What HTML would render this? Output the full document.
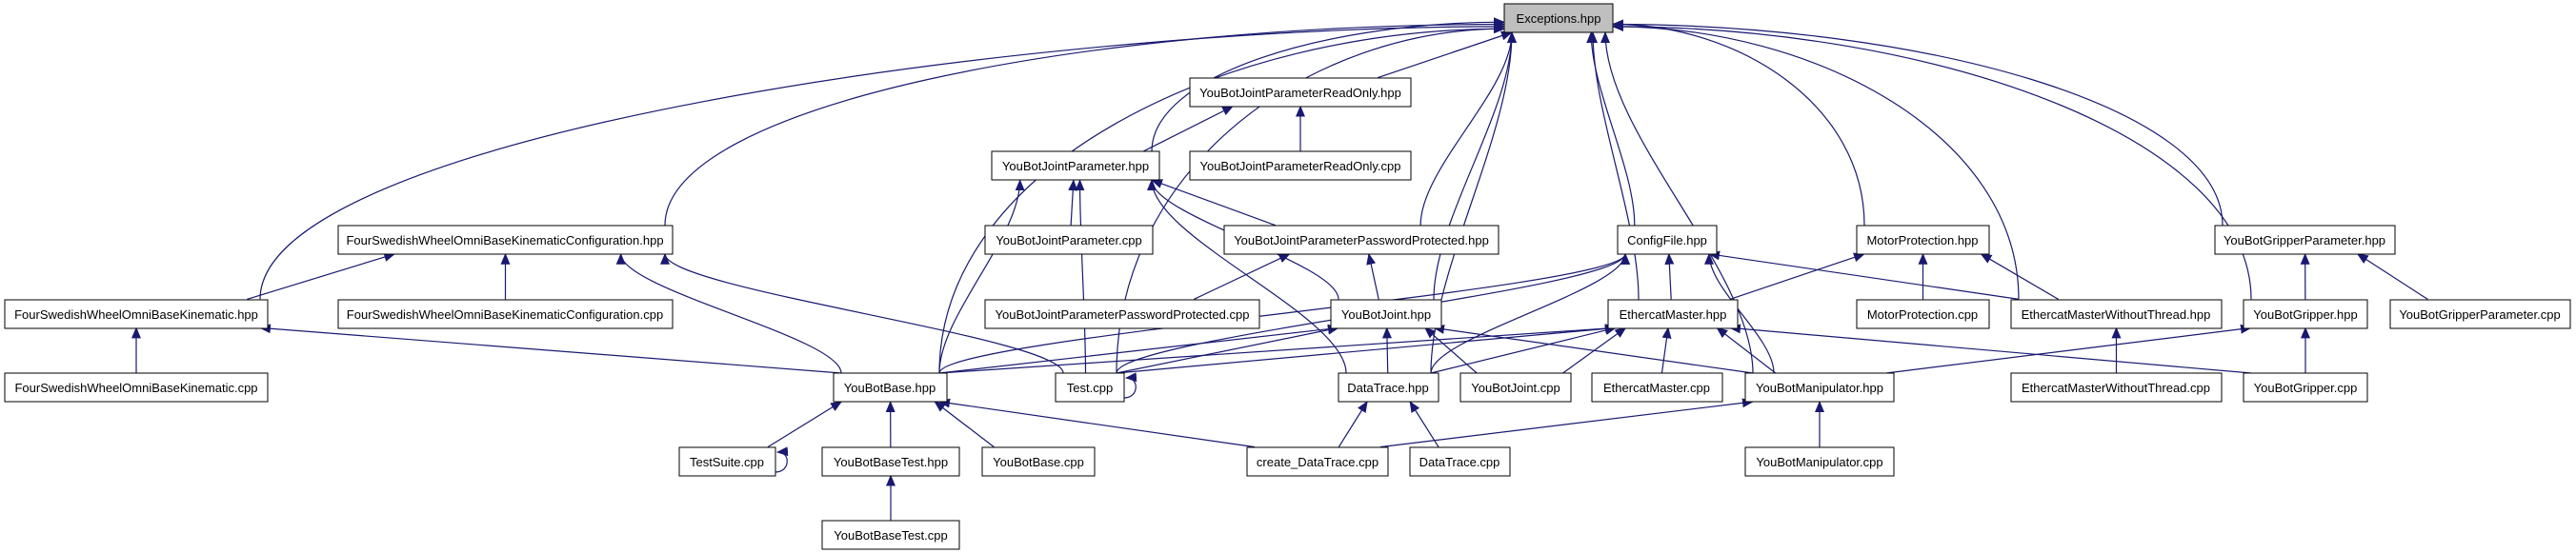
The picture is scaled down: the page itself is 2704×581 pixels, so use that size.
<!DOCTYPE html>
<html><head><meta charset="utf-8"><style>
html,body{margin:0;padding:0;background:#fff;}
svg{display:block;}
text{font-family:"Liberation Sans",sans-serif;font-size:13px;fill:#000;}
rect{stroke:#000;stroke-width:1;}
</style></head><body>
<svg id="s" width="2704" height="581" viewBox="0 0 2704 581" xmlns="http://www.w3.org/2000/svg">
<defs><marker id="a" markerWidth="12" markerHeight="10" refX="11" refY="5" orient="auto" markerUnits="userSpaceOnUse"><path d="M0,0 L12,5 L0,10 z" fill="#191970"/></marker></defs>
<g id="edges" fill="none" stroke="#191970" stroke-width="1.2"></g>
<g id="nodes">
<rect x="1579" y="4" width="114" height="30" fill="#bfbfbf"/><text x="1636" y="24" text-anchor="middle">Exceptions.hpp</text>
<rect x="1249" y="82" width="232" height="30" fill="#fff"/><text x="1365" y="102" text-anchor="middle">YouBotJointParameterReadOnly.hpp</text>
<rect x="1041" y="159" width="176" height="30" fill="#fff"/><text x="1129" y="179" text-anchor="middle">YouBotJointParameter.hpp</text>
<rect x="1249" y="159" width="232" height="30" fill="#fff"/><text x="1365" y="179" text-anchor="middle">YouBotJointParameterReadOnly.cpp</text>
<rect x="355" y="237" width="351" height="30" fill="#fff"/><text x="530" y="257" text-anchor="middle">FourSwedishWheelOmniBaseKinematicConfiguration.hpp</text>
<rect x="1034" y="237" width="176" height="30" fill="#fff"/><text x="1122" y="257" text-anchor="middle">YouBotJointParameter.cpp</text>
<rect x="1285" y="237" width="288" height="30" fill="#fff"/><text x="1429" y="257" text-anchor="middle">YouBotJointParameterPasswordProtected.hpp</text>
<rect x="1698" y="237" width="104" height="30" fill="#fff"/><text x="1750" y="257" text-anchor="middle">ConfigFile.hpp</text>
<rect x="1949" y="237" width="139" height="30" fill="#fff"/><text x="2018" y="257" text-anchor="middle">MotorProtection.hpp</text>
<rect x="2325" y="237" width="189" height="30" fill="#fff"/><text x="2419" y="257" text-anchor="middle">YouBotGripperParameter.hpp</text>
<rect x="5" y="315" width="276" height="30" fill="#fff"/><text x="143" y="335" text-anchor="middle">FourSwedishWheelOmniBaseKinematic.hpp</text>
<rect x="355" y="315" width="351" height="30" fill="#fff"/><text x="530" y="335" text-anchor="middle">FourSwedishWheelOmniBaseKinematicConfiguration.cpp</text>
<rect x="1034" y="315" width="288" height="30" fill="#fff"/><text x="1178" y="335" text-anchor="middle">YouBotJointParameterPasswordProtected.cpp</text>
<rect x="1397" y="315" width="116" height="30" fill="#fff"/><text x="1455" y="335" text-anchor="middle">YouBotJoint.hpp</text>
<rect x="1688" y="315" width="136" height="30" fill="#fff"/><text x="1756" y="335" text-anchor="middle">EthercatMaster.hpp</text>
<rect x="1949" y="315" width="139" height="30" fill="#fff"/><text x="2018" y="335" text-anchor="middle">MotorProtection.cpp</text>
<rect x="2111" y="315" width="221" height="30" fill="#fff"/><text x="2221" y="335" text-anchor="middle">EthercatMasterWithoutThread.hpp</text>
<rect x="2355" y="315" width="130" height="30" fill="#fff"/><text x="2420" y="335" text-anchor="middle">YouBotGripper.hpp</text>
<rect x="2509" y="315" width="189" height="30" fill="#fff"/><text x="2603" y="335" text-anchor="middle">YouBotGripperParameter.cpp</text>
<rect x="5" y="392" width="276" height="30" fill="#fff"/><text x="143" y="412" text-anchor="middle">FourSwedishWheelOmniBaseKinematic.cpp</text>
<rect x="875" y="392" width="119" height="30" fill="#fff"/><text x="934" y="412" text-anchor="middle">YouBotBase.hpp</text>
<rect x="1108" y="392" width="72" height="30" fill="#fff"/><text x="1144" y="412" text-anchor="middle">Test.cpp</text>
<rect x="1405" y="392" width="105" height="30" fill="#fff"/><text x="1457" y="412" text-anchor="middle">DataTrace.hpp</text>
<rect x="1533" y="392" width="116" height="30" fill="#fff"/><text x="1591" y="412" text-anchor="middle">YouBotJoint.cpp</text>
<rect x="1671" y="392" width="137" height="30" fill="#fff"/><text x="1739" y="412" text-anchor="middle">EthercatMaster.cpp</text>
<rect x="1832" y="392" width="156" height="30" fill="#fff"/><text x="1910" y="412" text-anchor="middle">YouBotManipulator.hpp</text>
<rect x="2111" y="392" width="221" height="30" fill="#fff"/><text x="2221" y="412" text-anchor="middle">EthercatMasterWithoutThread.cpp</text>
<rect x="2355" y="392" width="130" height="30" fill="#fff"/><text x="2420" y="412" text-anchor="middle">YouBotGripper.cpp</text>
<rect x="713" y="470" width="101" height="30" fill="#fff"/><text x="763" y="490" text-anchor="middle">TestSuite.cpp</text>
<rect x="863" y="470" width="144" height="30" fill="#fff"/><text x="935" y="490" text-anchor="middle">YouBotBaseTest.hpp</text>
<rect x="1031" y="470" width="118" height="30" fill="#fff"/><text x="1090" y="490" text-anchor="middle">YouBotBase.cpp</text>
<rect x="1309" y="470" width="148" height="30" fill="#fff"/><text x="1383" y="490" text-anchor="middle">create_DataTrace.cpp</text>
<rect x="1480" y="470" width="105" height="30" fill="#fff"/><text x="1532" y="490" text-anchor="middle">DataTrace.cpp</text>
<rect x="1832" y="470" width="156" height="30" fill="#fff"/><text x="1910" y="490" text-anchor="middle">YouBotManipulator.cpp</text>
<rect x="863" y="547" width="144" height="30" fill="#fff"/><text x="935" y="567" text-anchor="middle">YouBotBaseTest.cpp</text>
</g>
</svg>
<script>
(function(){
var N={
EX:[1579,1693,0],RO:[1249,1481,1],JP:[1041,1217,2],ROC:[1249,1481,2],
FCH:[355,706,3],JPC:[1034,1210,3],PP:[1285,1573,3],CF:[1698,1802,3],MP:[1949,2088,3],GP:[2325,2514,3],
FKH:[5,281,4],FCC:[355,706,4],PPC:[1034,1322,4],YJ:[1397,1513,4],EM:[1688,1824,4],MPC:[1949,2088,4],EW:[2111,2332,4],YG:[2355,2485,4],GPC:[2509,2698,4],
FKC:[5,281,5],YB:[875,994,5],TC:[1108,1180,5],DT:[1405,1510,5],YJC:[1533,1649,5],EMC:[1671,1808,5],YM:[1832,1988,5],EWC:[2111,2332,5],YGC:[2355,2485,5],
TS:[713,814,6],BT:[863,1007,6],YBC:[1031,1149,6],CDT:[1309,1457,6],DTC:[1480,1585,6],YMC:[1832,1988,6],BTC:[863,1007,7]};
function tp(n){return 4+77.6*n[2];}
var E=[
['RO','EX'],['JP','EX'],['PP','EX'],['CF','EX'],['EM','EX'],['YJ','EX'],['DT','EX'],['TC','EX'],['YB','EX'],['FCH','EX'],['FKH','EX'],['MP','EX'],['EW','EX'],['YG','EX'],['GP','EX'],['YM','EX'],
['JP','RO'],['ROC','RO'],
['JPC','JP'],['PP','JP'],['YJ','JP'],['YB','JP'],['TC','JP'],['DT','JP'],
['PPC','PP'],['YJ','PP'],
['YB','CF'],['TC','CF'],['DT','CF'],['EM','CF'],['EW','CF'],['YM','CF'],
['FKH','FCH'],['FCC','FCH'],['YB','FCH'],['TC','FCH'],
['FKC','FKH'],['YB','FKH'],
['YB','YJ'],['TC','YJ'],['DT','YJ'],['YJC','YJ'],['YM','YJ'],
['YB','EM'],['TC','EM'],['DT','EM'],['YJC','EM'],['EMC','EM'],['YM','EM'],['YGC','EM'],
['EM','MP'],['MPC','MP'],['EW','MP'],
['EWC','EW'],['YG','GP'],['GPC','GP'],['YM','YG'],['YGC','YG'],
['TS','YB'],['BT','YB'],['YBC','YB'],['CDT','YB'],['BTC','BT'],
['CDT','DT'],['DTC','DT'],['YMC','YM'],['CDT','YM']];
function cl(v,a,b){return Math.max(a,Math.min(b,v));}
var g=document.getElementById('edges');
var NS='http://www.w3.org/2000/svg';
function add(d){var p=document.createElementNS(NS,'path');p.setAttribute('d',d);p.setAttribute('marker-end','url(#a)');g.appendChild(p);}
E.forEach(function(e){var C=N[e[0]],P=N[e[1]];
var ccx=(C[0]+C[1])/2,pcx=(P[0]+P[1])/2,cw=(C[1]-C[0])/2,pw=(P[1]-P[0])/2;
var sx=ccx+cl((pcx-ccx)*0.3,-cw+8,cw-8),sy=tp(C);
var d,ex,ey;
var rd=C[2]-P[2];
if(P[2]==0&&Math.abs(pcx-sx)>250){
 ex=pcx<sx?P[1]:P[0];ey=19+cl((sy-19)*0.03,-6,12);
 var dir=pcx<sx?1:-1;
 d='M'+sx+','+sy+' C'+sx+','+(sy-(sy-ey)*0.6)+' '+(ex+dir*Math.min(500,Math.abs(sx-ex)*0.5))+','+ey+' '+ex+','+ey;
}else{
 ex=pcx+cl((ccx-pcx)*0.3,-pw+8,pw-8);ey=tp(P)+30;
 if(rd==1){d='M'+sx+','+sy+' L'+ex+','+ey;}
 else{var m=(sy-ey)*0.3;
 d='M'+sx+','+sy+' C'+sx+','+(sy-m)+' '+ex+','+(ey+m)+' '+ex+','+ey;}
}
add(d);});
add('M1180,418 C1196,418 1196,396 1182,397');
add('M814,496 C830,496 830,474 816,475');
})();
</script>
</body></html>
